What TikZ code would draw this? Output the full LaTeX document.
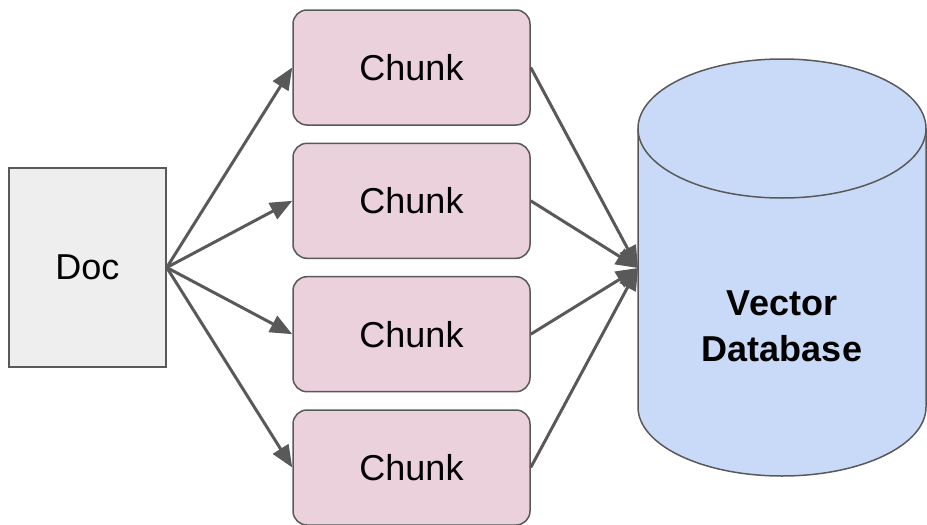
\documentclass[tikz,border=0pt]{standalone}
\usepackage{fontspec}
\setmainfont{Liberation Sans}
\usetikzlibrary{arrows.meta}
\definecolor{linegray}{HTML}{595959}
\definecolor{docfill}{HTML}{EEEEEE}
\definecolor{chunkfill}{HTML}{EAD1DC}
\definecolor{dbfill}{HTML}{C9DAF8}
\begin{document}
\begin{tikzpicture}[x=1pt,y=-1pt,
  box/.style={draw=linegray,line width=1.5pt,inner sep=0pt,font=\fontsize{36}{42}\selectfont},
  docbox/.style={box,fill=docfill,minimum width=157pt,minimum height=199pt},
  chunkbox/.style={box,fill=chunkfill,rounded corners=14pt,minimum width=237pt,minimum height=115pt},
  conn/.style={draw=linegray,line width=3pt,-{Triangle[length=22pt,width=18pt]}}]
\useasboundingbox (0,0) rectangle (927,525);
% database cylinder
\draw[draw=linegray,line width=1.5pt,fill=dbfill]
  (638,128.5) -- (638,407) arc[start angle=180,end angle=0,x radius=144,y radius=69]
  -- (926,128.5) arc[start angle=0,end angle=-180,x radius=144,y radius=69.5] -- cycle;
\draw[draw=linegray,line width=1.5pt]
  (638,128.5) arc[start angle=180,end angle=0,x radius=144,y radius=69.5];
\node[font=\fontsize{36}{42}\selectfont\bfseries] (vec) at (782,303) {Vector};
\node[font=\fontsize{36}{42}\selectfont\bfseries] (dbase) at (782,349) {Database};
\coordinate (db) at (638,268);
% doc
\node[docbox] (doc) at (87.5,267.5) {Doc};
% chunks
\node[chunkbox] (c1) at (411.5,67.5) {Chunk};
\node[chunkbox] (c2) at (411.5,200.8) {Chunk};
\node[chunkbox] (c3) at (411.5,334.2) {Chunk};
\node[chunkbox] (c4) at (411.5,467.5) {Chunk};
% connectors
\foreach \c in {c1,c2,c3,c4}{
  \draw[conn] (doc.east) -- (\c.west);
  \draw[conn] (\c.east) -- (db);
}
\end{tikzpicture}
\end{document}
